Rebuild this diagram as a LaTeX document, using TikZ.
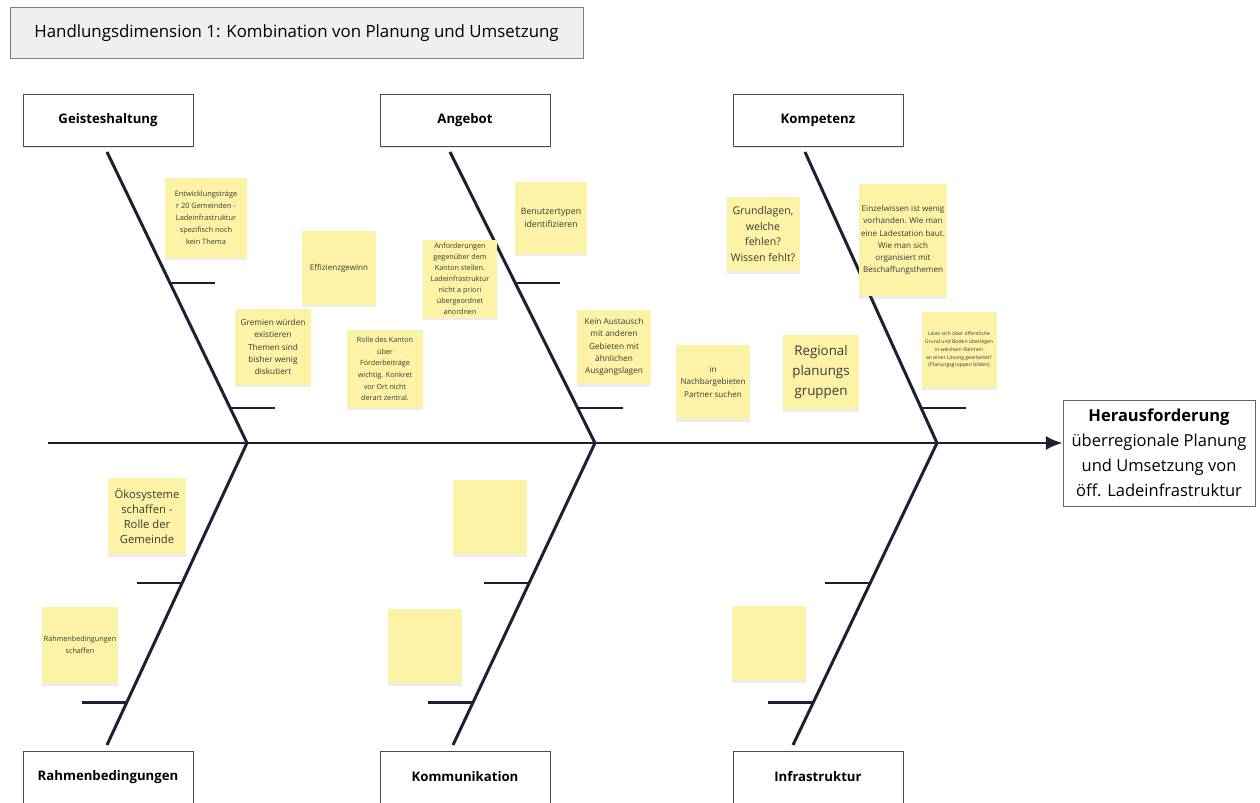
\documentclass[tikz,border=0pt]{standalone}
\usepackage{fontspec}
\setmainfont{Open Sans}
\usepackage{tikz}
\usetikzlibrary{calc}
\usetikzlibrary{arrows.meta}
\usetikzlibrary{shadows}
\usetikzlibrary{positioning}

\definecolor{bonecol}{HTML}{1B2033}
\definecolor{notecol}{HTML}{FCF3A6}
\definecolor{notetext}{HTML}{3A3A3A}
\definecolor{headfill}{HTML}{EFEFEF}

\newcommand{\fs}[2]{\fontsize{#1}{#2}\selectfont}

\tikzset{>=latex}
\tikzstyle{cat} = [rectangle, draw=black!70, fill=white, minimum width=3.4cm, minimum height=1.04cm, font=\fs{7.5pt}{9pt}\bfseries, drop shadow={opacity=0.2, shadow xshift=0pt, shadow yshift=-1pt}]
\tikzstyle{note} = [rectangle, fill=notecol, align=center, text=notetext, inner sep=1pt, drop shadow={opacity=0.15, shadow xshift=0pt, shadow yshift=-1.3pt}]
\tikzstyle{bone} = [-, draw=bonecol, line width=1.7pt]
\tikzstyle{tick} = [-, draw=bonecol, line width=1.5pt]

\begin{document}
\begin{tikzpicture}[x=0.02cm, y=-0.02cm]
\useasboundingbox (0, 0) rectangle (1260, 803);
% title
\node [rectangle, draw=black!50, fill=headfill, minimum width=11.46cm, minimum height=1.02cm, font=\fs{9.6pt}{11pt}] (title) at (296.5, 33) {Handlungsdimension 1: Kombination von Planung und Umsetzung};
% categories
\node [cat] (geist) at (108, 120) {Geisteshaltung};
\node [cat] (angebot) at (465, 120) {Angebot};
\node [cat] (kompetenz) at (818, 120) {Kompetenz};
\node [cat] (rahmen) at (108, 777) {Rahmenbedingungen};
\node [cat] (komm) at (465, 777) {Kommunikation};
\node [cat] (infra) at (818, 777) {Infrastruktur};
% head
\node [rectangle, draw=black!60, fill=white, align=center, minimum width=3.84cm, minimum height=2.12cm, font=\fs{9.4pt}{14.2pt}] (head) at (1159, 453) {{\bfseries Herausforderung}\\überregionale Planung\\und Umsetzung von\\öff. Ladeinfrastruktur};
% spine and bones
\coordinate (tail) at (48, 443);
\coordinate (j1) at (247, 443);
\coordinate (j2) at (595, 443);
\coordinate (j3) at (937, 443);
\coordinate (t1) at (107, 152);
\coordinate (t2) at (450, 152);
\coordinate (t3) at (805, 152);
\coordinate (b1) at (107, 745);
\coordinate (b2) at (453, 745);
\coordinate (b3) at (793, 745);
\draw [-{Latex[length=9.5pt, width=8pt]}, draw=bonecol, line width=1.7pt] (tail) -- (tail -| head.west);
\foreach \i in {1,2,3} {
  \draw [bone] (t\i) -- (j\i) -- (b\i);
  \draw [tick] ($(t\i)!0.45!(j\i)$) -- ++(45, 0);
  \draw [tick] ($(t\i)!0.88!(j\i)$) -- ++(45, 0);
  \draw [tick] ($(j\i)!0.464!(b\i)$) -- ++(-45, 0);
  \draw [tick] ($(j\i)!0.86!(b\i)$) -- ++(-45, 0);
}
% notes above
\node [note, minimum width=1.64cm, minimum height=1.6cm, font=\fs{4.2pt}{6.8pt}] (n1) at (206, 218) {Entwicklungsträge\\r 20 Gemeinden -\\Ladeinfrastruktur\\spezifisch noch\\kein Thema};
\node [note, minimum width=1.48cm, minimum height=1.48cm, font=\fs{4.6pt}{6pt}] (n2) at (339, 268) {Effizienzgewinn};
\node [note, minimum width=1.52cm, minimum height=1.52cm, font=\fs{4.7pt}{7pt}] (n3) at (273, 347) {Gremien würden\\existieren\\Themen sind\\bisher wenig\\diskutiert};
\node [note, minimum width=1.52cm, minimum height=1.56cm, font=\fs{4.1pt}{6.6pt}] (n4) at (385, 369) {Rolle des Kanton\\über\\Förderbeiträge\\wichtig. Konkret\\vor Ort nicht\\derart zentral.};
\node [note, minimum width=1.48cm, minimum height=1.56cm, font=\fs{4.1pt}{6.3pt}] (n5) at (460, 279) {Anforderungen\\gegenüber dem\\Kanton stellen.\\Ladeinfrastruktur\\nicht a priori\\übergeordnet\\anordnen};
\node [note, minimum width=1.44cm, minimum height=1.44cm, font=\fs{5pt}{7.4pt}] (n6) at (551, 218) {Benutzertypen\\identifizieren};
\node [note, minimum width=1.48cm, minimum height=1.5cm, font=\fs{4.7pt}{7pt}] (n7) at (614, 347) {Kein Austausch\\mit anderen\\Gebieten mit\\ähnlichen\\Ausgangslagen};
\node [note, minimum width=1.48cm, minimum height=1.5cm, font=\fs{4.6pt}{7pt}] (n8) at (713, 382) {in\\Nachbargebieten\\Partner suchen};
\node [note, minimum width=1.46cm, minimum height=1.5cm, font=\fs{6pt}{9pt}] (n9) at (763, 234) {Grundlagen,\\welche\\fehlen?\\Wissen fehlt?};
\node [note, minimum width=1.52cm, minimum height=1.5cm, font=\fs{7.6pt}{11.3pt}] (n10) at (821, 372) {Regional\\planungs\\gruppen};
\node [note, minimum width=1.74cm, minimum height=2.26cm, font=\fs{4.6pt}{6.9pt}] (n11) at (903, 240) {Einzelwissen ist wenig\\vorhanden. Wie man\\eine Ladestation baut.\\Wie man sich\\organisiert mit\\Beschaffungsthemen};
\node [note, minimum width=1.5cm, minimum height=1.52cm, font=\fs{2.9pt}{4.4pt}] (n12) at (959, 350) {Lässt sich über öffentliche\\Grund und Boden überlegen\\in welchem Rahmen\\an einer Lösung gearbeitet?\\(Planungsgruppen bilden)};
% notes below
\node [note, minimum width=1.56cm, minimum height=1.54cm, font=\fs{6.4pt}{8.5pt}] (n13) at (147, 516) {Ökosysteme\\schaffen -\\Rolle der\\Gemeinde};
\node [note, minimum width=1.52cm, minimum height=1.54cm, font=\fs{4.1pt}{6.6pt}] (n14) at (80, 645) {Rahmenbedingungen\\schaffen};
\node [note, minimum width=1.48cm, minimum height=1.5cm] (n15) at (490, 517) {};
\node [note, minimum width=1.48cm, minimum height=1.5cm] (n16) at (425, 646) {};
\node [note, minimum width=1.48cm, minimum height=1.5cm] (n17) at (769, 643) {};
\end{tikzpicture}
\end{document}
